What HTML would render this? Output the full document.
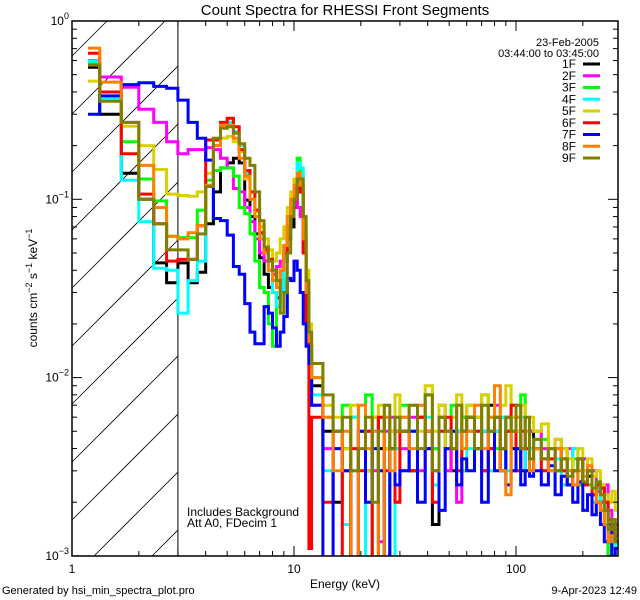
<!DOCTYPE html>
<html><head><meta charset="utf-8"><style>
html,body{margin:0;padding:0;background:#fff;width:640px;height:600px;overflow:hidden;}
svg{display:block;}
svg text{font-family:"Liberation Sans",sans-serif;fill:#000;}
</style></head><body>
<svg id="chart" width="640" height="600" xmlns="http://www.w3.org/2000/svg">
<rect width="640" height="600" fill="#fff"/>
<defs><clipPath id="plotclip"><rect x="72" y="21" width="546" height="535"/></clipPath></defs>
<g id="hatch"></g>
<line id="att-line" stroke="#000" stroke-width="1"/>
<g id="series" clip-path="url(#plotclip)"></g>
<rect x="72" y="21" width="546" height="535" fill="none" stroke="#000" stroke-width="1.5"/>
<g id="ticks"></g>
<text x="345" y="15" font-size="15" text-anchor="middle">Count Spectra for RHESSI Front Segments</text>
<text x="345" y="588" font-size="12" text-anchor="middle">Energy (keV)</text>
<text transform="translate(37,288) rotate(-90)" font-size="12" text-anchor="middle">counts cm<tspan font-size="9" dy="-5">−2</tspan><tspan dy="5"> s</tspan><tspan font-size="9" dy="-5">−1</tspan><tspan dy="5"> keV</tspan><tspan font-size="9" dy="-5">−1</tspan></text>
<text x="599" y="46" font-size="11" text-anchor="end">23-Feb-2005</text>
<text x="599" y="57" font-size="11" text-anchor="end">03:44:00 to 03:45:00</text>
<g id="legend"></g>
<text x="187" y="516" font-size="12">Includes Background</text>
<text x="187" y="527" font-size="12">Att A0, FDecim 1</text>
<text x="2" y="594" font-size="11">Generated by hsi_min_spectra_plot.pro</text>
<text x="637" y="594" font-size="11" text-anchor="end">9-Apr-2023 12:49</text>
</svg>
<script>
const seriesNames=["1F","2F","3F","4F","5F","6F","7F","8F","9F"];
const seriesColors=["#000000","#ff00ff","#00ff00","#00ffff","#d8d000","#ff0000","#0000ff","#ff8000","#808000"];
const xTickLabels=["1","10","100"];
const yTickExps=["0","−1","−2","−3"];
const lowBlack=[0.55,0.30,0.14,0.10,0.044,0.034,0.044,0.034,0.039,0.073,0.11,0.15,0.16,0.17,0.16,0.099,0.08,0.064,0.047,0.038,0.032,0.03,0.028,0.03,0.045,0.06,0.07,0.09,0.12,0.11,0.06,0.03,0.015];
const lowMagenta=[0.6,0.485,0.425,0.32,0.27,0.21,0.18,0.19,0.19,0.195,0.19,0.17,0.15,0.115,0.11,0.09,0.075,0.06,0.05,0.045,0.04,0.038,0.042,0.045,0.055,0.07,0.09,0.1,0.09,0.08,0.05,0.025,0.012];
const lowGreen=[0.58,0.40,0.21,0.13,0.098,0.062,0.061,0.061,0.087,0.128,0.145,0.15,0.15,0.135,0.09,0.083,0.064,0.045,0.032,0.03,0.02,0.015,0.025,0.035,0.05,0.07,0.1,0.13,0.17,0.14,0.07,0.03,0.015];
const lowCyan=[0.595,0.365,0.128,0.075,0.041,0.04,0.023,0.035,0.045,0.12,0.2,0.27,0.27,0.24,0.2,0.14,0.1,0.08,0.063,0.05,0.04,0.03,0.025,0.03,0.045,0.065,0.09,0.12,0.16,0.15,0.08,0.03,0.016];
const lowYellow=[0.46,0.40,0.257,0.2,0.147,0.107,0.105,0.104,0.11,0.14,0.215,0.22,0.225,0.21,0.185,0.13,0.11,0.085,0.07,0.06,0.052,0.045,0.05,0.06,0.07,0.09,0.11,0.13,0.14,0.12,0.07,0.04,0.02];
const lowRed=[0.66,0.40,0.18,0.107,0.073,0.045,0.046,0.046,0.071,0.215,0.215,0.27,0.285,0.255,0.19,0.145,0.11,0.087,0.065,0.052,0.046,0.04,0.035,0.04,0.05,0.07,0.08,0.1,0.12,0.11,0.05,0.02,0.0011];
const lowBlue=[0.30,0.38,0.44,0.45,0.43,0.42,0.36,0.27,0.22,0.166,0.078,0.076,0.063,0.042,0.038,0.026,0.018,0.0155,0.0155,0.025,0.023,0.019,0.015,0.018,0.022,0.036,0.035,0.045,0.04,0.03,0.02,0.015,0.012];
const lowOrange=[0.705,0.454,0.27,0.155,0.09,0.062,0.06,0.065,0.071,0.12,0.2,0.26,0.26,0.22,0.17,0.135,0.1,0.08,0.06,0.05,0.04,0.035,0.032,0.04,0.055,0.08,0.1,0.12,0.14,0.12,0.06,0.03,0.016];
const lowOlive=[0.566,0.355,0.27,0.1,0.073,0.052,0.052,0.046,0.064,0.118,0.22,0.25,0.255,0.235,0.205,0.17,0.155,0.11,0.076,0.054,0.045,0.04,0.035,0.023,0.03,0.05,0.08,0.1,0.13,0.13,0.08,0.035,0.018];
const hiBlack=[9,5,2,4,0.8,5,3,6,4,0.5,4,5, 5,3,6,5,1.5,6,4,3,5,6, 6,4,5,7,5,3,6,4,5,3,4,5, 4,3.5,4,3,3.5,2.5,3,3.5,2.5,2.8,2.2,2.5,2,1.8,0.8,1.5,1.2];
const hiMagenta=[7,4,5,3,6,0.6,5,3,1.2,5,6,4, 4,6,3,5,4,7,3,5,2,5, 5,6,3,4,7,4,5,3,6,4,3,5, 5,4,3,4.5,3,4,3,2.5,3.5,2.5,3,2.3,2,2.5,1.8,1.5,1.3];
const hiGreen=[10,6,4,7,3,5,8,0.5,6,4,5,6, 7,5,6,8,4,6,5,7,3,6, 7,5,8,6,4,6,5,7,4,8,5,4, 4,4.5,3.5,3,4,3,3.5,2.5,3,2.5,2.2,2.6,1.8,1.5,0.8,1.6,1.2];
const hiCyan=[8,3,5,1.5,6,4,0.5,5,3,6,0.7,4, 3,5,4,6,2.5,5,4,6,5,3, 4,6,5,3,5,6,3,5,4,6,3,4, 4.5,3,4,3.5,2.5,3,4,3,2.5,3,2,2.4,1.8,2,1.5,1.2,1.1];
const hiYellow=[12,7,6,4,7,5,3,6,7,4,5,8, 6,7,5,9,5,7,4,6,8,5, 7,6,8,5,6,7,9,6,5,7,4,6, 5,5.5,4,4.5,4,3.5,3,4,3,3.5,2.8,3,2.5,2.2,2,2.3,1.8];
const hiRed=[6,2,5,0.5,4,3,5,0.5,6,3,4,2, 5,3,6,4,2,5,6,4,3,5, 6,5,3,4,6,4,5,7,3,5,4,3, 4,3,3.5,4,3,2.5,3,3.5,2.5,3,2.2,2.5,2.4,2,1.6,1.3,1.5];
const hiBlue=[7,0.5,4,3,0.6,5,2,4,3,0.5,4,2.5, 3,5,2,4,3,1.8,4,5,2.5,3.5, 3,4,2,5,3,4,2.5,3,4,2.5,3,2.8, 3,2.5,3.2,2.2,2.8,2.5,2,2.6,1.8,2.2,1.7,2,1.5,1.2,1.5,1,1.1];
const hiOrange=[10,6,3,5,0.6,7,4,5,0.6,6,3,5, 6,4,7,5,3,6,5,4,7,4, 5,7,4,6,9,3,2.2,5,6,4,5,3, 4,3.5,3,4,3.5,3,2.5,3,2.8,3.2,2.4,2,1.8,1.5,1.2,1.3,1.4];
const hiOlive=[12,8,5,6,3,4,6,2,5,7,4,6, 5,7,4,8,3,6,5,4,7,5, 6,4,7,5,6,4,6,5,7,4,6,3.5, 4.5,3.5,4,3,3.5,2.8,3,3.5,2.6,3,2.4,2.6,2.2,1.8,1.4,1.6,1.2];
const HI_UNIT=1e-3;
const lowSeries=[lowBlack,lowMagenta,lowGreen,lowCyan,lowYellow,lowRed,lowBlue,lowOrange,lowOlive];
const hiSeries=[hiBlack,hiMagenta,hiGreen,hiCyan,hiYellow,hiRed,hiBlue,hiOrange,hiOlive];

const NS="http://www.w3.org/2000/svg";
const X0=72,X1=618,Y0=21,Y1=556,DEC_X=222,DEC_Y=178.3;
function xs(e){return X0+DEC_X*Math.log10(e);}
function ys(v){v=Math.max(v,8e-4);return Y0-DEC_Y*Math.log10(v);}
const edges=[1.18];
for(let k=1;k<=33;k++)edges.push(1+k/3);
let e=12;
for(let i=0;i<12;i++){e+=1.5;edges.push(e);}
for(let i=0;i<10;i++){e+=3;edges.push(e);}
for(let i=0;i<12;i++){e+=5;edges.push(e);}
for(let i=0;i<17;i++){e+=10;edges.push(e);}

const sg=document.getElementById('series');
for(let s=0;s<seriesNames.length;s++){
  const vals=lowSeries[s].concat(hiSeries[s].map(v=>v*HI_UNIT));
  let pts=[];
  for(let i=0;i<vals.length;i++){
    const y=ys(vals[i]).toFixed(1);
    pts.push(xs(edges[i]).toFixed(1)+","+y);
    pts.push(xs(edges[i+1]).toFixed(1)+","+y);
  }
  const pl=document.createElementNS(NS,'polyline');
  
  
  pl.setAttribute('points',pts.join(' '));
  pl.setAttribute('fill','none');
  pl.setAttribute('stroke',seriesColors[s]);
  pl.setAttribute('stroke-width','3');
  sg.appendChild(pl);
}
// hatch lines clipped manually to [72,178]x[21,556]; line: y = c - (x - X0)
const hg=document.getElementById('hatch');
const HX1=xs(3);
for(let c=-60;c<700;c+=58){
  let xa=X0,ya=c,xb=HX1,yb=c-(HX1-X0);
  if(ya>Y1){xa=X0+(c-Y1);ya=Y1;}
  if(yb<Y0){xb=X0+(c-Y0);yb=Y0;}
  if(xa>=xb||xa>HX1||xb<X0)continue;
  const l=document.createElementNS(NS,'line');
  
  
  l.setAttribute('x1',xa);l.setAttribute('y1',ya);
  l.setAttribute('x2',xb);l.setAttribute('y2',yb);
  l.setAttribute('stroke','#000');l.setAttribute('stroke-width','0.8');
  hg.appendChild(l);
}
const al=document.getElementById('att-line');
al.setAttribute('x1',HX1);al.setAttribute('x2',HX1);al.setAttribute('y1',Y0);al.setAttribute('y2',Y1);
const tg=document.getElementById('ticks');
function line(x1,y1,x2,y2,name){
  const l=document.createElementNS(NS,'line');
  
  
  l.setAttribute('x1',x1);l.setAttribute('y1',y1);l.setAttribute('x2',x2);l.setAttribute('y2',y2);
  l.setAttribute('stroke','#000');l.setAttribute('stroke-width','1');
  tg.appendChild(l);
}
for(let d=0;d<3;d++){
  for(let m=1;m<10;m++){
    const ev=Math.pow(10,d)*m;const x=xs(ev);
    if(x>X1)continue;
    const len=m===1?10:5;
    line(x,Y1,x,Y1-len,'x-tick');line(x,Y0,x,Y0+len,'x-tick');
  }
  const t=document.createElementNS(NS,'text');
  
  
  t.setAttribute('x',xs(Math.pow(10,d)));t.setAttribute('y',573);
  t.setAttribute('font-size','12');t.setAttribute('text-anchor','middle');
  t.textContent=xTickLabels[d];tg.appendChild(t);
}
for(let d=0;d<4;d++){
  for(let m=1;m<10;m++){
    const v=Math.pow(10,-d)*m;if(v>1)continue;const y=ys(v);
    const len=m===1?10:5;
    line(X0,y,X0+len,y,'y-tick');line(X1,y,X1-len,y,'y-tick');
  }
  const t=document.createElementNS(NS,'text');
  
  
  t.setAttribute('x',69);t.setAttribute('y',ys(Math.pow(10,-d))+4);
  t.setAttribute('font-size','12');t.setAttribute('text-anchor','end');
  t.innerHTML='10<tspan font-size="9" dy="-6">'+yTickExps[d]+'</tspan>';
  tg.appendChild(t);
}
const lg=document.getElementById('legend');
for(let s=0;s<seriesNames.length;s++){
  const y=64+s*11.75;
  const t=document.createElementNS(NS,'text');
  
  
  t.setAttribute('x',576);t.setAttribute('y',y+4);
  t.setAttribute('font-size','12');t.setAttribute('text-anchor','end');
  t.textContent=seriesNames[s];lg.appendChild(t);
  const l=document.createElementNS(NS,'line');
  
  
  l.setAttribute('x1',583);l.setAttribute('x2',600);l.setAttribute('y1',y);l.setAttribute('y2',y);
  l.setAttribute('stroke',seriesColors[s]);l.setAttribute('stroke-width','3');
  lg.appendChild(l);
}
</script>
</body></html>
